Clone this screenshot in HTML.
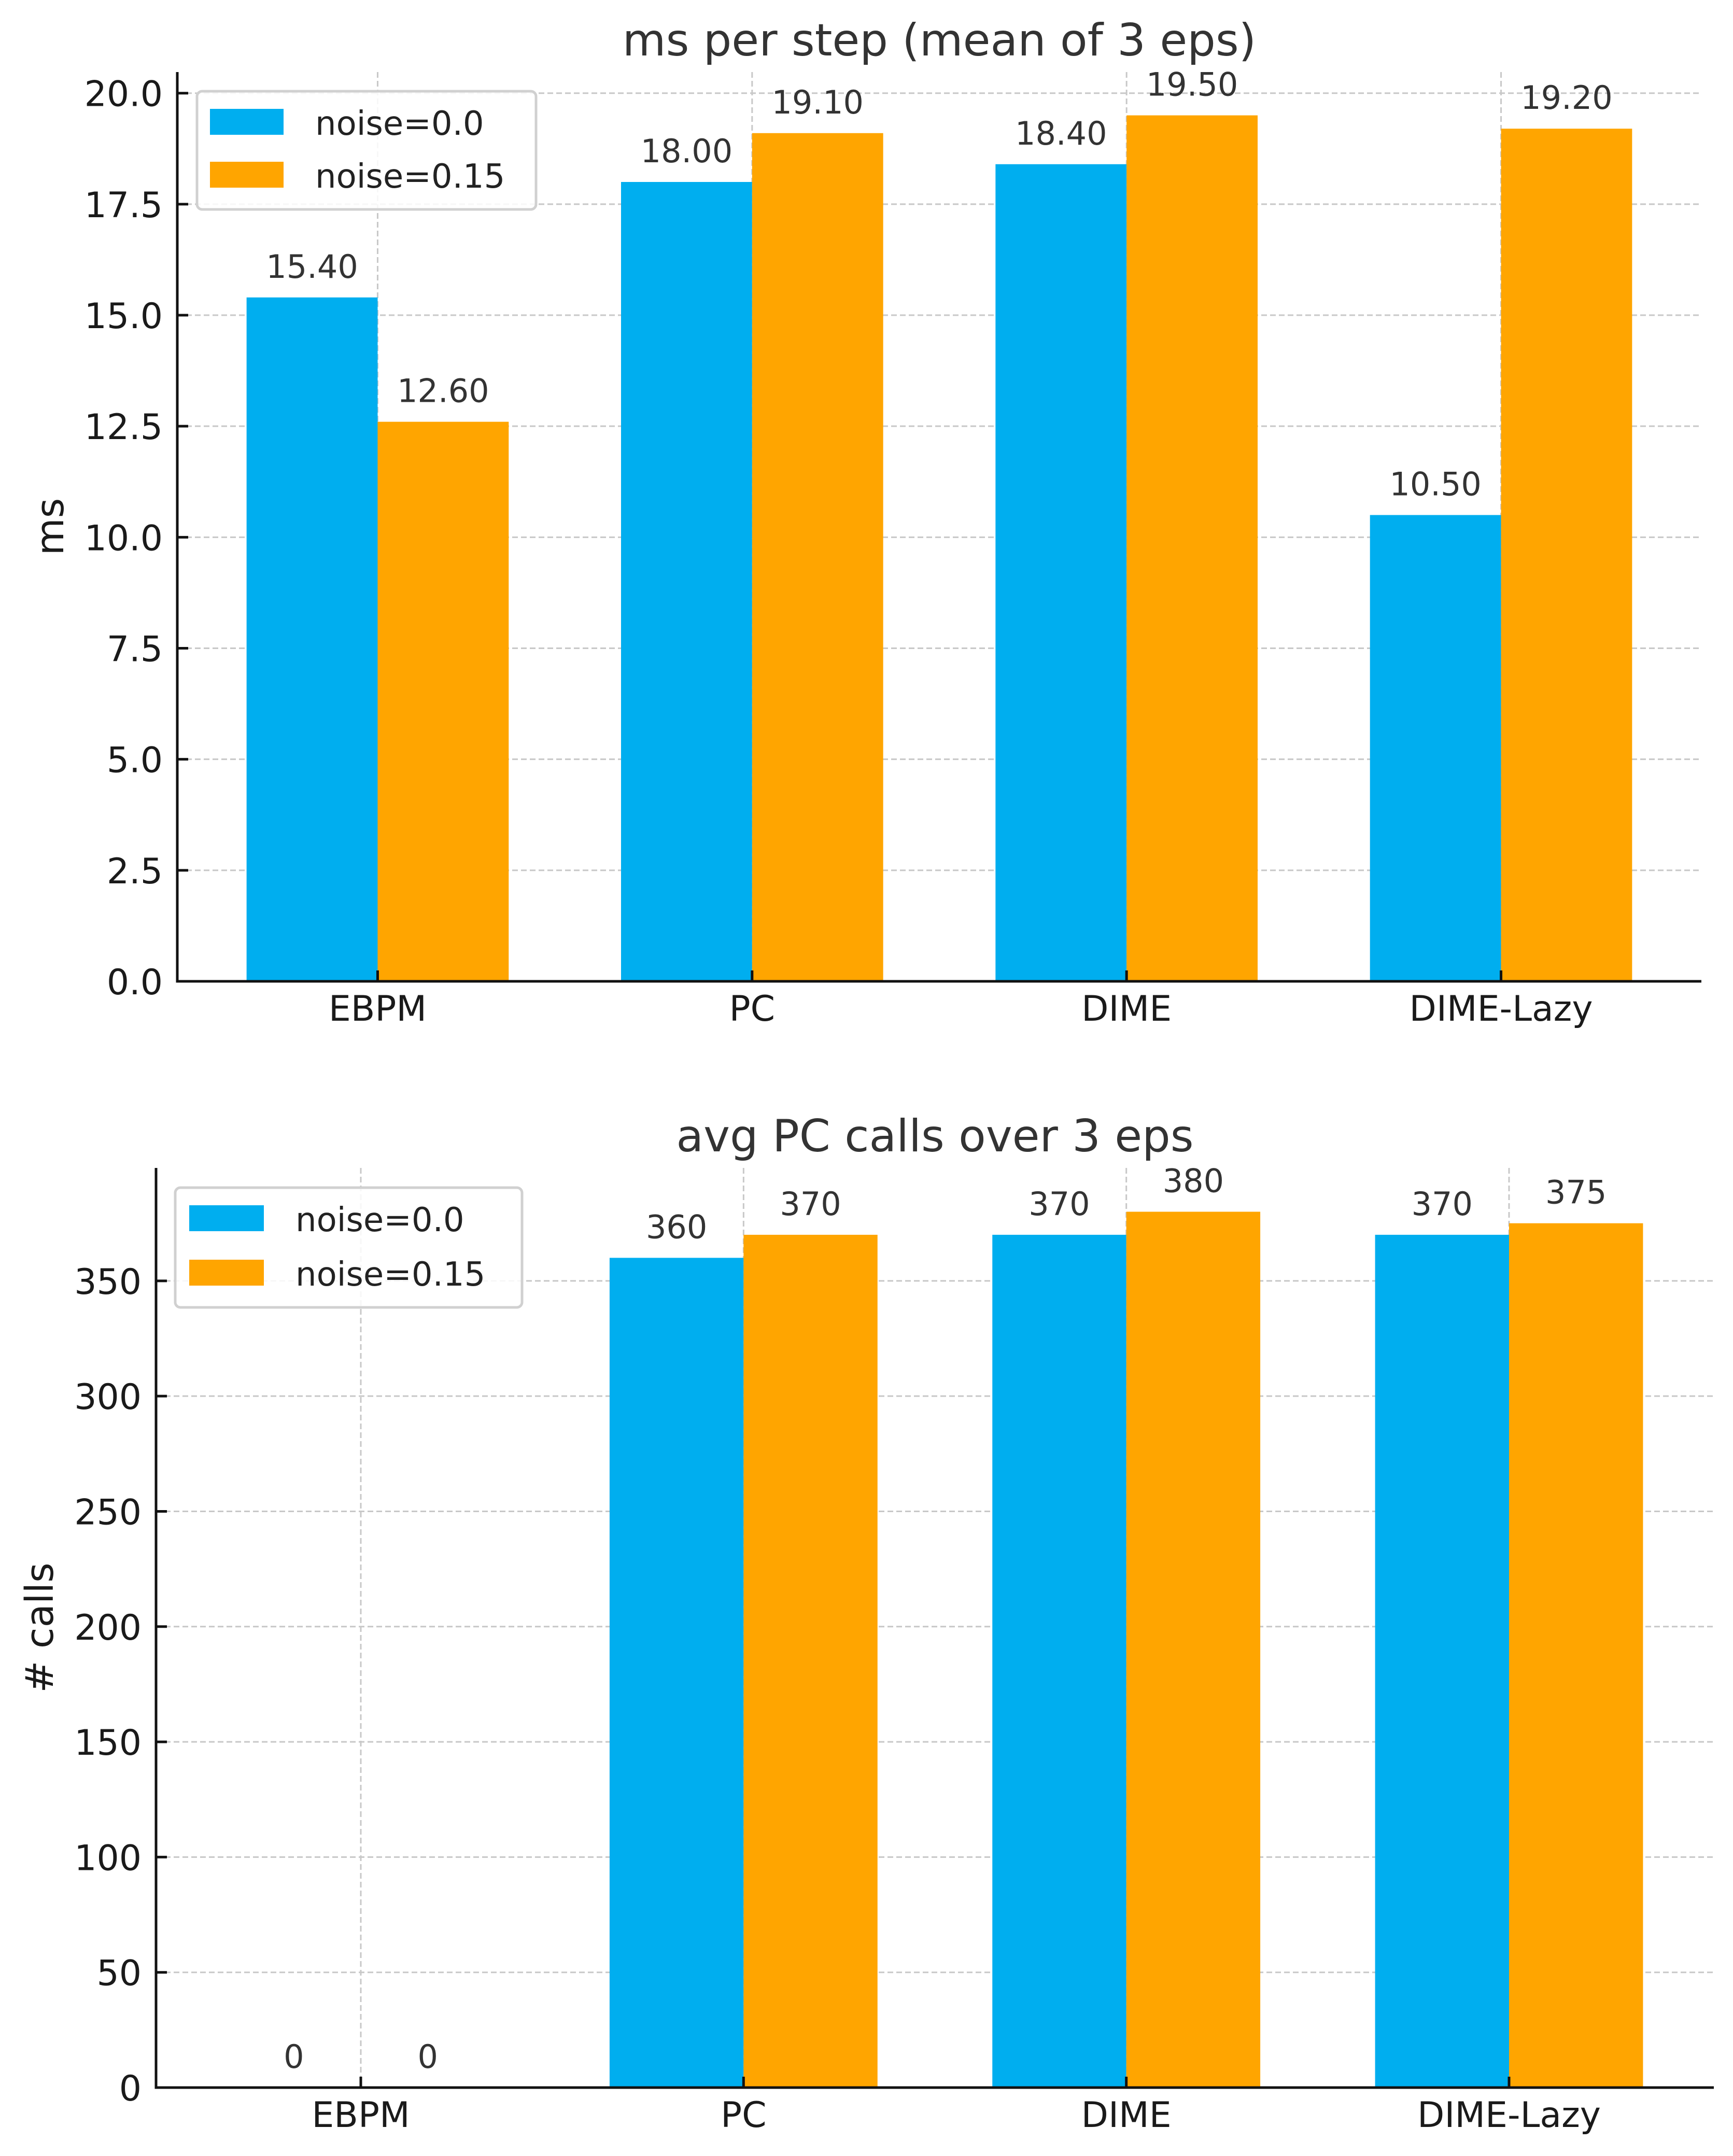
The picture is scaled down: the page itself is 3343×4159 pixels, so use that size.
<!DOCTYPE html>
<html><head><meta charset="utf-8"><style>
html,body{margin:0;padding:0;background:#fff;}
svg{display:block;font-family:"DejaVu Sans","Liberation Sans",sans-serif;}
</style></head><body>
<svg id="fig" width="3343" height="4159" viewBox="0 0 3343 4159" xmlns="http://www.w3.org/2000/svg"></svg>
<script>
const categories = ["EBPM","PC","DIME","DIME-Lazy"];
const seriesNames = ["noise=0.0","noise=0.15"];
const msNoise0 = [15.4, 18.0, 18.4, 10.5];
const msNoise15 = [12.6, 19.1, 19.5, 19.2];
const callsNoise0 = [0, 360, 370, 370];
const callsNoise15 = [0, 370, 380, 375];
const msTicks = [0, 2.5, 5, 7.5, 10, 12.5, 15, 17.5, 20];
const msTickLabels = ["0.0","2.5","5.0","7.5","10.0","12.5","15.0","17.5","20.0"];
const callTicks = [0, 50, 100, 150, 200, 250, 300, 350];
const callTickLabels = ["0","50","100","150","200","250","300","350"];

const NS = "http://www.w3.org/2000/svg";
const svg = document.getElementById("fig");
const colors = ["#00AEEF","#FFA500"];
function el(tag, attrs, parent){const e=document.createElementNS(NS,tag);for(const k in attrs)e.setAttribute(k,attrs[k]);(parent||svg).appendChild(e);return e;}

function drawChart(cfg){
  const g = el("g",{});
  
  
  const {L,R,T,B,ymax} = cfg;
  const xs = i => L + (i + 0.535) * (R - L) / 4.07;
  const unit = (R - L) / 4.07;
  const ys = v => B - v * (B - T) / ymax;
  cfg.ticks.forEach((t,i)=>{
    const y = ys(t);
    const gl = el("line",{x1:L,x2:R,y1:y,y2:y,stroke:"#c8c8c8","stroke-width":3,"stroke-dasharray":"11 6"},g);
    
    
  });
  categories.forEach((c,i)=>{
    const x = xs(i);
    const gl = el("line",{x1:x,x2:x,y1:T,y2:B,stroke:"#c8c8c8","stroke-width":3,"stroke-dasharray":"11 6"},g);
    
    
  });
  const w = 0.35 * unit;
  [cfg.s0, cfg.s1].forEach((arr,si)=>{
    arr.forEach((v,i)=>{
      const x = xs(i) + (si===0 ? -w : 0);
      const r = el("rect",{x:x,y:ys(v),width:w,height:B-ys(v),fill:colors[si]},g);
      
      
      const t = el("text",{x:x+w/2,y:ys(v)-38,"text-anchor":"middle","font-size":62,fill:"#333"},g);
      t.textContent = cfg.fmt(v);
      
      
    });
  });
  const sp1 = el("line",{x1:L,x2:L,y1:T,y2:B+2.5,stroke:"#111","stroke-width":5},g);
  
  
  const sp2 = el("line",{x1:L-2.5,x2:R,y1:B,y2:B,stroke:"#111","stroke-width":5},g);
  
  
  cfg.ticks.forEach((t,i)=>{
    const y = ys(t);
    el("line",{x1:L,x2:L+21,y1:y,y2:y,stroke:"#111","stroke-width":5},g);
    const tl = el("text",{x:L-28,y:y+25,"text-anchor":"end","font-size":68,fill:"#1a1a1a"},g);
    tl.textContent = cfg.tickLabels[i];
    
    
  });
  categories.forEach((c,i)=>{
    const x = xs(i);
    el("line",{x1:x,x2:x,y1:B,y2:B-21,stroke:"#111","stroke-width":5},g);
    const tl = el("text",{x:x,y:B+76,"text-anchor":"middle","font-size":68,fill:"#1a1a1a"},g);
    tl.textContent = c;
    
    
  });
  const ti = el("text",{x:(L+R)/2,y:T-32,"text-anchor":"middle","font-size":86,fill:"#333"},g);
  ti.textContent = cfg.title;
  
  
  const yl = el("text",{x:0,y:0,"text-anchor":"middle","font-size":74,fill:"#1a1a1a",transform:`translate(${cfg.ylx},${(T+B)/2}) rotate(-90)`},g);
  yl.textContent = cfg.ylabel;
  
  
  const lg = cfg.leg;
  const lgG = el("g",{},g);
  
  
  el("rect",{x:lg.x,y:lg.y,width:lg.w,height:lg.h,rx:10,fill:"#fff","fill-opacity":0.85,stroke:"#d0d0d0","stroke-width":5},lgG);
  seriesNames.forEach((n,i)=>{
    const py = lg.py[i];
    const sw = el("rect",{x:lg.px,y:py,width:lg.pw,height:lg.ph,fill:colors[i]},lgG);
    
    
    const lt = el("text",{x:lg.tx,y:py+lg.ph,"font-size":64,fill:"#222"},lgG);
    lt.textContent = n;
    
    
  });
}

drawChart({name:"ms-per-step-chart",L:342,R:3282,T:139,B:1893,ymax:20.475,ticks:msTicks,tickLabels:msTickLabels,
  s0:msNoise0,s1:msNoise15,fmt:v=>v.toFixed(2),title:"ms per step (mean of 3 eps)",ylabel:"ms",ylx:122,
  leg:{x:380,y:176,w:654,h:228,px:405,pw:142,ph:50,py:[210,312],tx:608}});
drawChart({name:"pc-calls-chart",L:301,R:3306,T:2253,B:4027,ymax:399,ticks:callTicks,tickLabels:callTickLabels,
  s0:callsNoise0,s1:callsNoise15,fmt:v=>String(Math.round(v)),title:"avg PC calls over 3 eps",ylabel:"# calls",ylx:102,
  leg:{x:338,y:2291,w:669,h:231,px:365,pw:144,ph:50,py:[2325,2430],tx:570}});
</script>
</body></html>
